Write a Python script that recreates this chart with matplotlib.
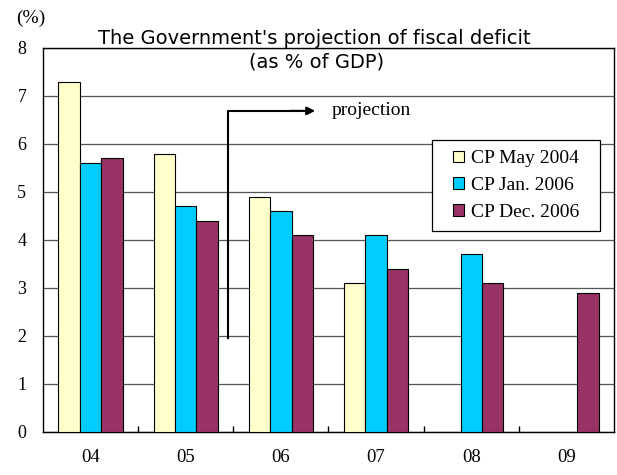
import numpy as np
import matplotlib
matplotlib.use("Agg")
import matplotlib.pyplot as plt
from matplotlib.patches import Rectangle

years = ["04", "05", "06", "07", "08", "09"]
series_names = ["CP May 2004", "CP Jan. 2006", "CP Dec. 2006"]
cp_may_2004 = [7.3, 5.8, 4.9, 3.1, np.nan, np.nan]
cp_jan_2006 = [5.6, 4.7, 4.6, 4.1, 3.7, np.nan]
cp_dec_2006 = [5.7, 4.4, 4.1, 3.4, 3.1, 2.9]
colors = ["#FFFFCC", "#00CCFF", "#993366"]
yticks = [0, 1, 2, 3, 4, 5, 6, 7, 8]

serif = "Liberation Serif"

fig = plt.figure(figsize=(6.17, 4.75), dpi=100)
ax = fig.add_axes([43/617, 43/475, 571/617, 384/475])

x = np.arange(len(years))
w = 0.225
for i, (vals, name, c) in enumerate(zip([cp_may_2004, cp_jan_2006, cp_dec_2006], series_names, colors)):
    ax.bar(x + (i - 1) * w, vals, width=w, color=c, edgecolor="black",
           linewidth=0.8, label=name, zorder=3)

ax.set_xlim(-0.5, len(years) - 0.5)
ax.set_ylim(0, 8)
ax.set_yticks(yticks)
ax.set_yticklabels([str(t) for t in yticks], fontfamily=serif, fontsize=13)
ax.tick_params(axis="y", length=0, pad=12)
ax.set_xticks(x)
ax.set_xticklabels(years, fontfamily=serif, fontsize=13.5)
ax.tick_params(axis="x", which="major", length=0, pad=12)
ax.set_xticks(np.arange(0.5, len(years) - 0.5, 1), minor=True)
ax.tick_params(axis="x", which="minor", direction="in", length=4, width=1)
ax.yaxis.grid(True, color="#555555", linewidth=0.9, zorder=0)
ax.set_axisbelow(True)
for s in ax.spines.values():
    s.set_linewidth(1.0)
    s.set_color("black")

# projection arrow
ax.plot([1.443, 1.443, 2.2], [1.95, 6.69, 6.69], color="black", lw=1.5, zorder=4)
ax.annotate("", xy=(2.36, 6.69), xytext=(2.1, 6.69),
            arrowprops=dict(arrowstyle="-|>", lw=1.5, color="black", mutation_scale=12,
                            shrinkA=0, shrinkB=0), zorder=4)
ax.text(2.536, 6.69, "projection", fontfamily=serif, fontsize=14, va="center", ha="left")

# titles
fig.text(314/617, 1 - 38/475, "The Government's projection of fiscal deficit",
         ha="center", va="center", fontsize=14, fontfamily="DejaVu Sans")
fig.text(317/617, 1 - 62/475, "(as % of GDP)", ha="center", va="center",
         fontsize=14, fontfamily="DejaVu Sans")
fig.text(16/617, 1 - 18/475, "(%)", ha="left", va="center", fontsize=14, fontfamily=serif)

# legend box
box_x0, box_x1 = (432 - 43) / 571, (600 - 43) / 571
box_y0, box_y1 = (432 - 231) / 384, (432 - 140) / 384
ax.add_patch(Rectangle((box_x0, box_y0), box_x1 - box_x0, box_y1 - box_y0,
                       transform=ax.transAxes, facecolor="white", edgecolor="black",
                       linewidth=0.9, zorder=5))
leg = ax.legend(loc="center", bbox_to_anchor=((box_x0 + box_x1) / 2, (box_y0 + box_y1) / 2),
                frameon=False, prop={"family": serif, "size": 14}, handlelength=0.55,
                handleheight=0.55, handletextpad=0.35, labelspacing=0.5,
                borderpad=0, borderaxespad=0)
leg.set_zorder(6)

fig.savefig("out.png", dpi=100)
